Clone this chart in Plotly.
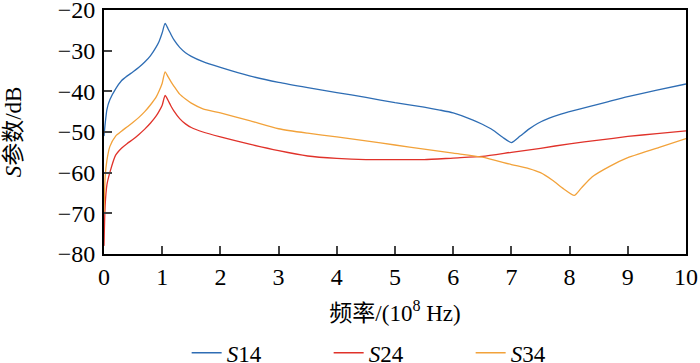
import plotly.graph_objects as go

# S14 (blue)
freq_s14 = [0, 0.02, 0.05, 0.1, 0.2, 0.3, 0.4, 0.5, 0.6, 0.7, 0.8, 0.9, 0.95, 1.0, 1.05,
            1.1, 1.15, 1.2, 1.3, 1.4, 1.5, 1.7, 2.0, 2.5, 3.0, 3.5, 4.0, 4.5, 5.0, 5.5,
            5.77, 6.0, 6.33, 6.5, 6.68, 6.85, 7.0, 7.15, 7.3, 7.45, 7.65, 7.85, 8.05,
            8.35, 8.62, 9.0, 9.5, 10.0]
s14 = [-51, -48, -44.5, -42.1, -39.4, -37.4, -36.2, -35.2, -34.1, -32.8, -31.2, -29.0,
       -27.6, -25.6, -23.3, -24.6, -26.0, -27.3, -29.2, -30.5, -31.4, -32.7, -34.1,
       -36.2, -37.8, -39.1, -40.3, -41.5, -42.8, -43.9, -44.6, -45.3, -47.0, -48.1,
       -49.5, -51.3, -52.6, -51.0, -49.3, -47.9, -46.6, -45.6, -44.8, -43.7, -42.7,
       -41.3, -39.7, -38.2]

# S24 (red)
freq_s24 = [0, 0.02, 0.05, 0.1, 0.2, 0.3, 0.4, 0.5, 0.6, 0.7, 0.8, 0.9, 0.95, 1.0, 1.05,
            1.1, 1.15, 1.2, 1.3, 1.4, 1.5, 1.7, 2.0, 2.5, 3.0, 3.5, 4.0, 4.5, 5.0, 5.5,
            6.0, 6.5, 7.0, 7.5, 8.0, 8.5, 9.0, 9.5, 10.0]
s24 = [-78, -68, -63, -60, -55.7, -54.0, -52.8, -51.8, -50.6, -49.3, -47.8, -46.0,
       -44.8, -43.4, -41.0, -42.2, -43.6, -44.8, -46.7, -48.0, -48.9, -50.0, -51.2,
       -53.0, -54.6, -55.9, -56.5, -56.8, -56.8, -56.8, -56.4, -56.0, -55.0, -54.0,
       -52.9, -52.0, -51.1, -50.4, -49.7]

# S34 (orange)
freq_s34 = [0, 0.02, 0.05, 0.1, 0.2, 0.3, 0.4, 0.5, 0.6, 0.7, 0.8, 0.9, 0.95, 1.0, 1.05,
            1.1, 1.15, 1.2, 1.3, 1.4, 1.5, 1.7, 2.0, 2.5, 3.0, 3.5, 4.0, 4.5, 5.0, 5.5,
            6.0, 6.5, 7.0, 7.3, 7.5, 7.7, 7.9, 8.08, 8.2, 8.39, 8.68, 8.97, 9.54, 10.0]
s34 = [-70, -61, -57, -53.6, -51.0, -49.8, -48.7, -47.6, -46.4, -45.0, -43.3, -41.3,
       -39.8, -38.0, -35.2, -36.4, -37.6, -38.7, -40.7, -41.9, -42.9, -44.3, -45.3,
       -47.2, -49.2, -50.3, -51.2, -52.2, -53.2, -54.2, -55.2, -56.2, -58.0, -59.0,
       -60.0, -61.8, -64.0, -65.6, -63.8, -61.0, -58.5, -56.5, -53.8, -51.6]

x_ticks = [0, 1, 2, 3, 4, 5, 6, 7, 8, 9, 10]
y_ticks = [-80, -70, -60, -50, -40, -30, -20]

serif = "Liberation Serif, Times New Roman, Noto Sans CJK SC, serif"

fig = go.Figure()
for fx, fy, nm, col in [(freq_s14, s14, "<i>S</i>14", "#2e6db4"),
                        (freq_s24, s24, "<i>S</i>24", "#e0322a"),
                        (freq_s34, s34, "<i>S</i>34", "#f2a23a")]:
    fig.add_trace(go.Scatter(x=fx, y=fy, mode="lines", name=nm,
                             line=dict(color=col, width=1.3, shape="spline", smoothing=0.6)))

fig.update_layout(
    width=700, height=363,
    margin=dict(l=104, r=14, t=10, b=109, autoexpand=False),
    paper_bgcolor="white", plot_bgcolor="white",
    font=dict(family=serif, size=24, color="black"),
    showlegend=True,
    legend=dict(orientation="h", x=0.508, xanchor="center", y=-0.405, yanchor="middle",
                font=dict(size=23), entrywidth=97, itemwidth=30,
                bgcolor="rgba(0,0,0,0)"),
    xaxis=dict(range=[0, 10], tickvals=x_ticks, ticks="inside", ticklen=8, tickwidth=2,
               showline=True, linewidth=2, linecolor="black", mirror=True,
               showgrid=False, zeroline=False, tickfont=dict(size=24),
               ticklabelstandoff=0, automargin=False, ticklabeloverflow="allow",
               title=dict(text="频率/(10<sup>8</sup> Hz)", font=dict(size=23), standoff=16)),
    yaxis=dict(range=[-80, -20], tickvals=y_ticks, ticks="inside", ticklen=8, tickwidth=2,
               showline=True, linewidth=2, linecolor="black", mirror=True,
               showgrid=False, zeroline=False, tickfont=dict(size=24),
               ticklabelstandoff=2, automargin=False, ticklabeloverflow="allow",
               title=dict(text="<i>S</i>参数/dB", font=dict(size=23), standoff=30)),
)

fig.write_html("out.html", config={"displayModeBar": False},
               post_script="document.body.style.margin='0px';document.body.style.overflow='hidden';")
